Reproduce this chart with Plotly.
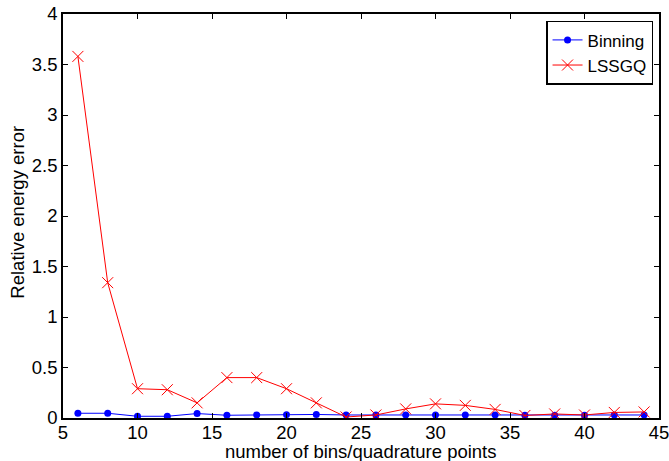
import plotly.graph_objects as go

x_points = [6, 8, 10, 12, 14, 16, 18, 20, 22, 24, 26, 28, 30, 32, 34, 36, 38, 40, 42, 44]
binning = [0.047, 0.047, 0.017, 0.017, 0.044, 0.027, 0.03, 0.033, 0.035, 0.03, 0.03, 0.03, 0.03, 0.03, 0.03, 0.028, 0.028, 0.028, 0.03, 0.03]
lssgq = [3.58, 1.34, 0.29, 0.28, 0.15, 0.40, 0.40, 0.29, 0.15, 0.01, 0.03, 0.09, 0.14, 0.125, 0.085, 0.025, 0.04, 0.03, 0.055, 0.06]

x_ticks = [5, 10, 15, 20, 25, 30, 35, 40, 45]
y_ticks = [0, 0.5, 1, 1.5, 2, 2.5, 3, 3.5, 4]
y_tick_text = ["0", "0.5", "1", "1.5", "2", "2.5", "3", "3.5", "4"]

FONT = "Liberation Sans, Arial, Helvetica"

fig = go.Figure()
fig.add_trace(go.Scatter(x=x_points, y=binning, mode="lines+markers", name="Binning",
                         line=dict(color="#0000ff", width=1),
                         marker=dict(symbol="circle", size=7, color="#0000ff")))
fig.add_trace(go.Scatter(x=x_points, y=lssgq, mode="lines+markers", name="LSSGQ",
                         line=dict(color="#ff0000", width=1),
                         marker=dict(symbol="x-thin", size=11, line=dict(color="#ff0000", width=1))))

axis_common = dict(showgrid=False, zeroline=False, showline=True, linecolor="black", linewidth=1.5,
                   mirror="ticks", ticks="inside", ticklen=5, tickcolor="black", automargin=False,
                   ticklabeloverflow="allow",
                   tickfont=dict(family=FONT, size=18.5, color="black"))

fig.update_layout(
    width=669, height=461,
    margin=dict(l=63, r=10, t=14, b=43),
    paper_bgcolor="white", plot_bgcolor="white",
    font=dict(family=FONT, color="black"),
    xaxis=dict(range=[5, 45], tickvals=x_ticks, ticktext=[str(v) for v in x_ticks],
               ticklabelstandoff=-3, **axis_common),
    yaxis=dict(range=[0, 4], tickvals=y_ticks, ticktext=y_tick_text, **axis_common),
    legend=dict(x=0.99, y=0.983, xanchor="right", yanchor="top",
                bordercolor="black", borderwidth=1.5, bgcolor="white",
                font=dict(family=FONT, size=17, color="black"), tracegroupgap=0),
    showlegend=True,
    annotations=[
        dict(text="number of bins/quadrature points", xref="paper", yref="paper",
             x=0.5, y=-0.084, xanchor="center", yanchor="middle", showarrow=False,
             font=dict(family=FONT, size=18.5, color="black")),
        dict(text="Relative energy error", xref="paper", yref="paper",
             x=-0.076, y=0.51, xanchor="center", yanchor="middle", textangle=-90, showarrow=False,
             font=dict(family=FONT, size=18.5, color="black")),
    ],
)

fig.write_html("out.html", config={"displayModeBar": False},
               post_script="document.body.style.margin='0';document.body.style.overflow='hidden';")
